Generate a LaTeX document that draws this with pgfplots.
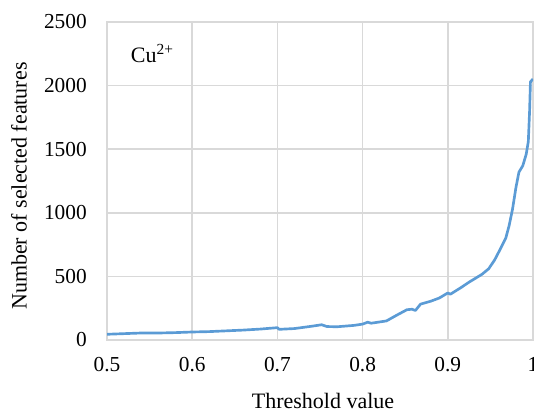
\documentclass[border=0pt]{standalone}
\usepackage{fontspec}
\setmainfont{Liberation Serif}
\usepackage{pgfplots}
\pgfplotsset{compat=1.18}
\definecolor{linecol}{HTML}{5B9BD5}
\definecolor{gridcol}{HTML}{D9D9D9}
\begin{document}
\begin{tikzpicture}
\begin{axis}[
  name=ax,
  scale only axis,
  width=319.5pt, height=238.5pt,
  xmin=0.5, xmax=1, ymin=0, ymax=2500,
  xtick={0.5,0.6,0.7,0.8,0.9,1},
  ytick={0,500,1000,1500,2000,2500},
  grid=major,
  major grid style={gridcol, line width=1.1pt},
  axis line style={gridcol, line width=1.1pt},
  major tick length=0pt,
  /pgf/number format/assume math mode=true,
  /pgf/number format/1000 sep={},
  xticklabel={\pgfmathprintnumber{\tick}},
  yticklabel={\pgfmathprintnumber{\tick}},
  tick label style={font=\fontsize{16}{18}\selectfont, inner sep=0pt},
  xticklabel shift=12.75pt,
  yticklabel shift=15pt,
  xlabel={Threshold value},
  ylabel={Number of selected features},
  label style={font=\fontsize{16.5}{18}\selectfont, inner sep=0pt},
  xlabel style={at={(axis description cs:0.507,0)}, anchor=base, yshift=-51pt},
  ylabel style={at={(axis description cs:0,0.484)}, anchor=base, yshift=60.2pt},
]
\addplot[linecol, line width=2pt, line join=round] table {%
0.500 45
0.520 50
0.540 55
0.560 55
0.580 58
0.600 63
0.620 66
0.640 72
0.660 78
0.680 86
0.700 97
0.702 84
0.720 90
0.740 108
0.752 120
0.758 106
0.770 104
0.790 115
0.800 125
0.806 140
0.810 132
0.828 150
0.840 195
0.852 238
0.858 242
0.862 232
0.868 282
0.880 305
0.890 330
0.900 370
0.903 360
0.915 410
0.925 455
0.940 516
0.948 560
0.955 630
0.962 720
0.968 800
0.972 900
0.976 1030
0.980 1200
0.9835 1320
0.988 1370
0.992 1460
0.9945 1560
0.996 1800
0.997 2030
1.000 2052
};
\node[anchor=base west, inner sep=0pt, font=\fontsize{16.5}{18}\selectfont] at (rel axis cs:0.0556,0.873) {Cu\textsuperscript{2+}};
\end{axis}
\pgfresetboundingbox
\useasboundingbox ([shift={(-80.25pt,-53.25pt)}]ax.south west) rectangle ([shift={(0.75pt,16.5pt)}]ax.north east);
\end{tikzpicture}
\end{document}
